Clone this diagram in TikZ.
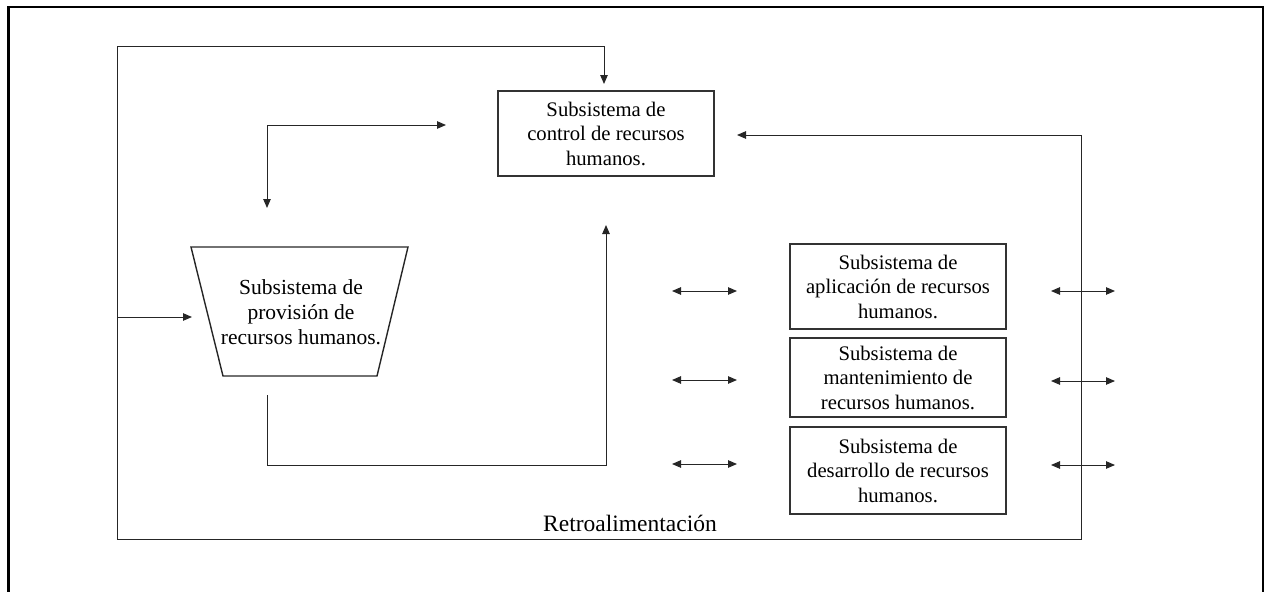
\documentclass[tikz,border=0pt]{standalone}
\usepackage{fontspec}
\setmainfont{Liberation Serif}
\usetikzlibrary{arrows.meta}
\begin{document}
\begin{tikzpicture}[x=1pt,y=-1pt,
  line width=1pt,
  box/.style={draw=black!80, line width=1.1pt, minimum width=216pt, align=center, inner sep=0pt,
    font=\fontsize{20.7}{24.5}\selectfont},
  txt/.style={align=center, inner sep=0pt, font=\fontsize{21.5}{25}\selectfont},
  arr/.style={-{Triangle[length=9pt,width=7.5pt]}},
  darr/.style={{Triangle[length=9pt,width=7.5pt]}-{Triangle[length=9pt,width=7.5pt]}},
  wire/.style={draw=black!85, line width=1pt}]
\useasboundingbox (0,0) rectangle (1270,592);
% outer frame
\draw[line width=2.2pt] (8.5,592) -- (8.5,7) -- (1263,7) -- (1263,592);

% nodes
\node[box, minimum height=85pt] (ctrl) at (606,133.5) {Subsistema de\\control de recursos\\humanos.};
\node[box, minimum height=85pt] (apl) at (898,286.5) {Subsistema de\\aplicación de recursos\\humanos.};
\node[box, minimum height=79pt] (mant) at (898,377.5) {Subsistema de\\mantenimiento de\\recursos humanos.};
\node[box, minimum height=87pt] (des) at (898,470.5) {Subsistema de\\desarrollo de recursos\\humanos.};

% trapezium
\draw[draw=black!85, line width=1.4pt] (191,247) -- (408,247) -- (377,376) -- (223,376) -- cycle;
\node[txt] (prov) at (301,312) {Subsistema de\\provisión de\\recursos humanos.};

\node[txt, font=\fontsize{23.5}{26}\selectfont] (retro) at (630,523) {Retroalimentación};

% coordinates
\coordinate (fbTL) at (117,46);
\coordinate (fbBL) at (117,539);
\coordinate (fbBR) at (1081,539);
\coordinate (fbR) at (1081,135);
\coordinate (ctrlTopIn) at (604,46);
\coordinate (ctrlTopTip) at (604,84);
\coordinate (ctrlRightTip) at (737,135);
\coordinate (provIn) at (117,317);
\coordinate (provInTip) at (192,317);
\coordinate (lCorner) at (267,125);
\coordinate (lRightTip) at (446,125);
\coordinate (lDownTip) at (267,208);
\coordinate (pOut) at (267,395);
\coordinate (pCorner) at (267,465);
\coordinate (cCorner) at (606,465);
\coordinate (cUpTip) at (606,225);

% feedback loop
\draw[wire] (fbBL) -- (fbBR) -- (fbR);
\draw[wire, arr] (fbR) -- (ctrlRightTip);
\draw[wire] (fbBL) -- (fbTL);
\draw[wire, arr] (fbTL) -- (ctrlTopIn) -- (ctrlTopTip);
\draw[wire, arr] (provIn) -- (provInTip);

% L-shaped double arrow
\draw[wire, darr] (lDownTip) -- (lCorner) -- (lRightTip);

% provision to control
\draw[wire, arr] (pOut) -- (pCorner) -- (cCorner) -- (cUpTip);

% side double arrows
\coordinate (la1) at (672,291); \coordinate (lb1) at (737,291);
\coordinate (la2) at (672,380); \coordinate (lb2) at (737,380);
\coordinate (la3) at (672,464); \coordinate (lb3) at (737,464);
\coordinate (ra1) at (1051,291); \coordinate (rb1) at (1115,291);
\coordinate (ra2) at (1051,381); \coordinate (rb2) at (1115,381);
\coordinate (ra3) at (1051,465); \coordinate (rb3) at (1115,465);
\foreach \i in {1,2,3}{
  \draw[wire, darr] (la\i) -- (lb\i);
  \draw[wire, darr] (ra\i) -- (rb\i);
}
\end{tikzpicture}
\end{document}
